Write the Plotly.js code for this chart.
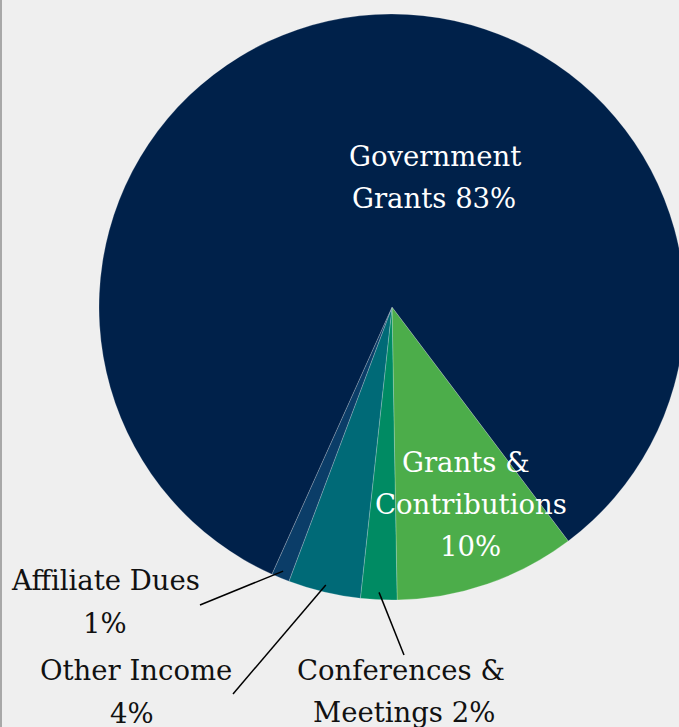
<!DOCTYPE html>
<html>
<head>
<meta charset="utf-8">
<script src="https://cdn.plot.ly/plotly-3.0.1.min.js"></script>
<style>
  html, body { margin: 0; padding: 0; background: #efefef; overflow: hidden; width: 679px; height: 727px; }
  #wrap { position: relative; width: 679px; height: 727px; overflow: hidden; }
  #chart { position: absolute; left: 0; top: 0; width: 784px; height: 727px; }
  #edge { position: absolute; left: 0; top: 0; width: 2px; height: 727px; background: #a8a8a8; z-index: 5; }
</style>
</head>
<body>
<div id="wrap"><div id="chart"></div><div id="edge"></div></div>
<script>
// ---- data ----
const categories = ['Grants & Contributions', 'Conferences & Meetings', 'Other Income', 'Affiliate Dues', 'Government Grants'];
const values = [10, 2, 4, 1, 83];
const colors = ['#4cad4a', '#008b63', '#006a77', '#0b3d68', '#00214a'];
// text lines of each label (percent appended from values)
const labelLines = [
  ['Grants &', 'Contributions', '{p}'],
  ['Conferences &', 'Meetings {p}'],
  ['Other Income', '{p}'],
  ['Affiliate Dues', '{p}'],
  ['Government', 'Grants {p}']
];

// ---- layout geometry (pixels) ----
const W = 784, H = 727, MT = 14, MB = 127;
const PH = H - MT - MB;
const CX = W / 2, CY = MT + PH / 2, R = PH / 2;
const ROT = 143;
const FONT = 'DejaVu Serif';
const FS = 27.5;

// label line positions (pixel centres), per category
const labelPos = [
  [[466, 462], [471, 504], [470, 546]],
  [[401, 670], [404, 712]],
  [[136, 670], [132, 713]],
  [[105, 580], [105, 623]],
  [[435, 156], [434, 198]]
];
const labelColor = ['#ffffff', '#111111', '#111111', '#111111', '#ffffff'];
// outer end of leader lines (pixels) for outside labels
const leaderEnd = [null, [404, 655], [233, 694], [200, 605], null];

const px = x => x / W;
const py = y => (H - MB - y) / PH;

const total = values.reduce((a, b) => a + b, 0);
const annotations = [];
const shapes = [];
let cum = 0;
values.forEach((v, i) => {
  const mid = (ROT + (cum + v / 2) / total * 360) * Math.PI / 180;
  cum += v;
  labelLines[i].forEach((ln, j) => {
    const [x, y] = labelPos[i][j];
    annotations.push({
      xref: 'paper', yref: 'paper', x: px(x), y: py(y),
      xanchor: 'center', yanchor: 'middle', showarrow: false,
      text: ln.replace('{p}', v + '%'),
      font: { family: FONT, size: FS, color: labelColor[i] }
    });
  });
  if (leaderEnd[i]) {
    const ix = CX + R * 0.975 * Math.sin(mid);
    const iy = CY - R * 0.975 * Math.cos(mid);
    shapes.push({
      type: 'line', xref: 'paper', yref: 'paper', layer: 'above',
      x0: px(ix), y0: py(iy), x1: px(leaderEnd[i][0]), y1: py(leaderEnd[i][1]),
      line: { color: '#000000', width: 1.5 }
    });
  }
});

const trace = {
  type: 'pie',
  labels: categories,
  values: values,
  sort: false,
  direction: 'clockwise',
  rotation: ROT,
  textinfo: 'none',
  hoverinfo: 'none',
  marker: { colors: colors, line: { color: 'rgba(255,255,255,0.3)', width: 0.7 } },
  domain: { x: [0, 1], y: [0, 1] }
};

const layout = {
  width: W, height: H,
  margin: { l: 0, r: 0, t: MT, b: MB, pad: 0 },
  paper_bgcolor: '#efefef',
  plot_bgcolor: '#efefef',
  showlegend: false,
  annotations: annotations,
  shapes: shapes,
  font: { family: FONT }
};

Plotly.newPlot('chart', [trace], layout, { displayModeBar: false, staticPlot: true });
</script>
</body>
</html>
